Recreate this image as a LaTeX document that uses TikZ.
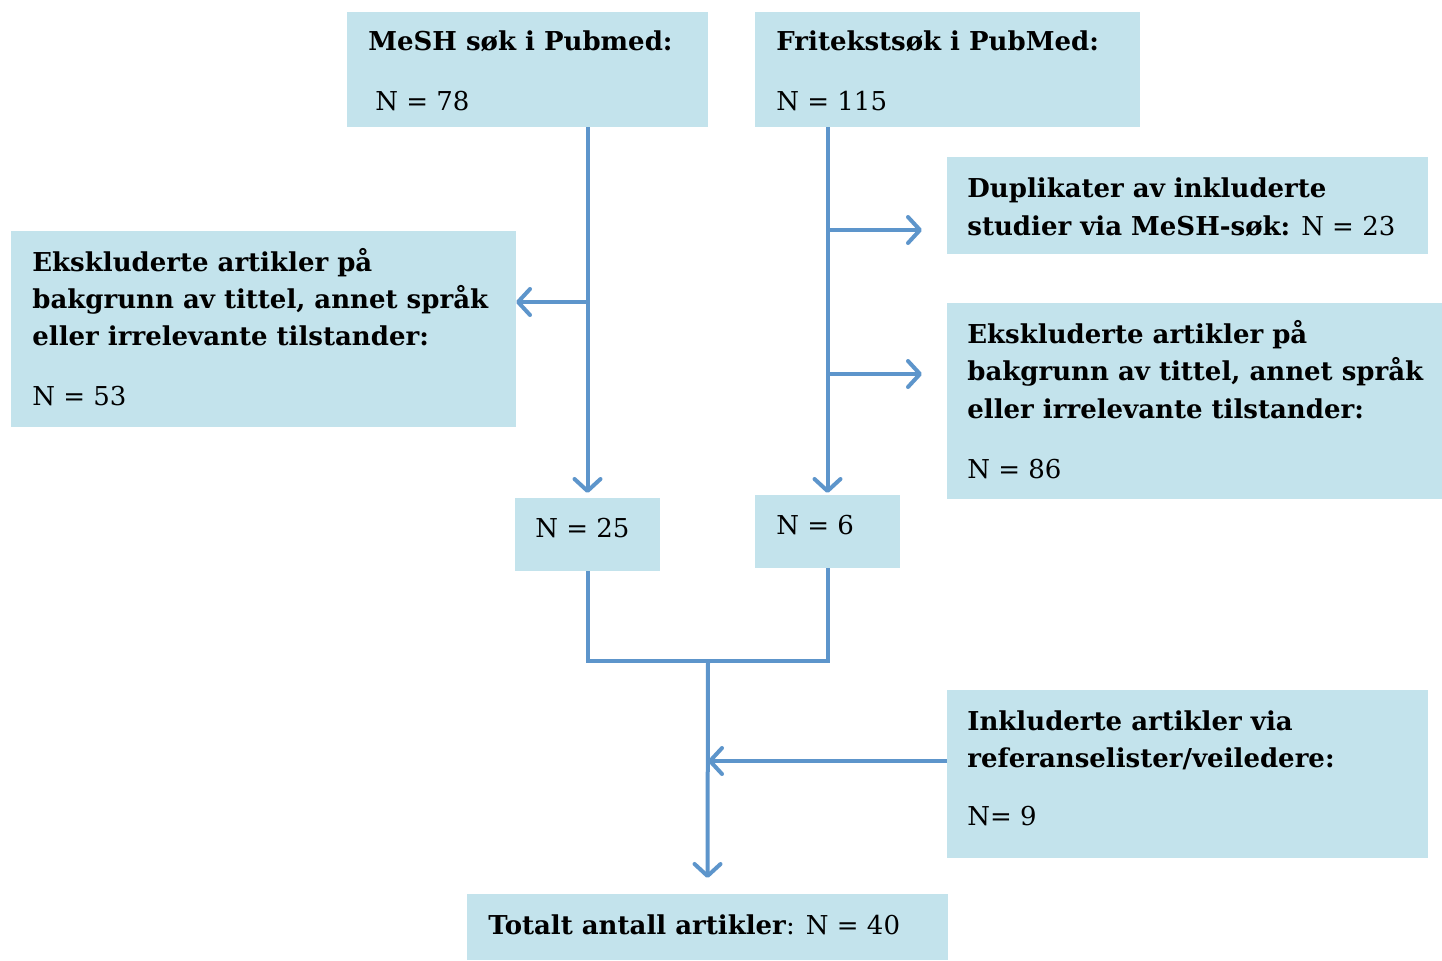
\documentclass[tikz,border=0pt]{standalone}
\usepackage{fontspec}
\setmainfont{DejaVu Serif}
\usetikzlibrary{arrows.meta}
\definecolor{boxc}{HTML}{C3E3EC}
\definecolor{arrc}{HTML}{5D95CB}
\tikzset{
  box/.style={fill=boxc, inner sep=0pt, outer sep=0pt, anchor=north west},
  txt/.style={anchor=base west, inner sep=0pt, font=\fontsize{13pt}{16pt}\selectfont},
  conn/.style={draw=arrc, line width=2pt},
  arr/.style={conn, -{Straight Barb[length=6pt, width=13pt, line width=2pt, round]}}
}
\begin{document}
\begin{tikzpicture}[x=0.5pt, y=-0.5pt]
\useasboundingbox (0,0) rectangle (1442,960);
% boxes
\node[box, minimum width=180.5pt, minimum height=57.5pt] (mesh) at (347,12) {};
\node[box, minimum width=192.5pt, minimum height=57.5pt] (frit) at (755,12) {};
\node[box, minimum width=240.5pt, minimum height=48.5pt] (dup) at (947,157) {};
\node[box, minimum width=252.5pt, minimum height=98pt] (ekl) at (11,231) {};
\node[box, minimum width=247.5pt, minimum height=98pt] (ekr) at (947,303) {};
\node[box, minimum width=72.5pt, minimum height=36.5pt] (n25) at (515,498) {};
\node[box, minimum width=72.5pt, minimum height=36.5pt] (n6) at (755,495) {};
\node[box, minimum width=240.5pt, minimum height=84pt] (inkl) at (947,690) {};
\node[box, minimum width=240.5pt, minimum height=33pt] (tot) at (467,894) {};
% texts
\node[txt] (t1) at (368,50) {\textbf{MeSH søk i Pubmed:}};
\node[txt] (t2) at (375,110) {N = 78};
\node[txt] (t3) at (776,50) {\textbf{Fritekstsøk i PubMed:}};
\node[txt] (t4) at (776,110) {N = 115};
\node[txt] (t5) at (967,197) {\textbf{Duplikater av inkluderte}};
\node[txt] (t6) at (967,235) {\textbf{studier via MeSH-søk:} N = 23};
\node[txt] (t7) at (32,271) {\textbf{Ekskluderte artikler på}};
\node[txt] (t8) at (32,308) {\textbf{bakgrunn av tittel, annet språk}};
\node[txt] (t9) at (32,345) {\textbf{eller irrelevante tilstander:}};
\node[txt] (t10) at (32,405) {N = 53};
\node[txt] (t11) at (967,343) {\textbf{Ekskluderte artikler på}};
\node[txt] (t12) at (967,380) {\textbf{bakgrunn av tittel, annet språk}};
\node[txt] (t13) at (967,418) {\textbf{eller irrelevante tilstander:}};
\node[txt] (t14) at (967,478) {N = 86};
\node[txt] (t15) at (535,537) {N = 25};
\node[txt] (t16) at (776,534) {N = 6};
\node[txt] (t17) at (967,730) {\textbf{Inkluderte artikler via}};
\node[txt] (t18) at (967,767) {\textbf{referanselister/veiledere:}};
\node[txt] (t19) at (967,825) {N= 9};
\node[txt] (t20) at (488,934) {\textbf{Totalt antall artikler}: N = 40};
% coordinates
\coordinate (bl) at (587,302);
\coordinate (el) at (516,302);
\coordinate (br1) at (827,230);
\coordinate (er1) at (922,230);
\coordinate (br2) at (827,374);
\coordinate (er2) at (922,374);
\coordinate (mid) at (708,661);
\coordinate (ij) at (708,761);
\coordinate (is) at (947,761);
% connectors
\draw[arr] (n25.north |- mesh.south) -- ([yshift=2.5pt]n25.north);
\draw[arr] (n6.north |- frit.south) -- ([yshift=1pt]n6.north);
\draw[arr] (bl) -- (el);
\draw[arr] (br1) -- (er1);
\draw[arr] (br2) -- (er2);
\draw[conn] (n25.south) -- (n25.south |- mid) -- (n6.south |- mid) -- (n6.south);
\draw[arr] (mid) -- ([yshift=8pt]tot.north);
\draw[arr] (is) -- (ij);
\end{tikzpicture}
\end{document}
